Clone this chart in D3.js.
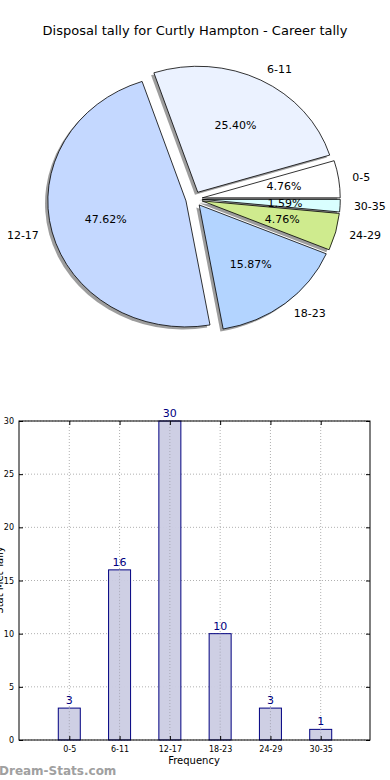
<!DOCTYPE html>
<html>
<head>
<meta charset="utf-8">
<script src="https://cdn.jsdelivr.net/npm/d3@7"></script>
<style>
  body { margin: 0; background: #fff; }
  text { font-family: "DejaVu Sans", sans-serif; }
</style>
</head>
<body>
<script>
// chart data
var categories = ["0-5", "6-11", "12-17", "18-23", "24-29", "30-35"];
var tally = [3, 16, 30, 10, 3, 1];
var sliceColors = ["#ffffff", "#ebf2ff", "#c4d8ff", "#b3d4ff", "#cfeb8e", "#d9ffff"];
var yTicks = [0, 5, 10, 15, 20, 25, 30];
var titleText = "Disposal tally for Curtly Hampton - Career tally";

var w = 390, h = 780;

var svg = d3.select("body").append("svg")
    .attr("width", w)
    .attr("height", h);

// title
svg.append("text")
    .attr("x", 195).attr("y", 35)
    .attr("text-anchor", "middle")
    .style("font-size", "13px")
    .text(titleText);

// ---- pie (elliptical, like an unequal matplotlib axes) ----
var cx = 194, cy = 199, rx = 138, ry = 126, explode = 0.06;
var total = d3.sum(tally);

var pie = d3.pie().sort(null)
    .startAngle(Math.PI / 2)
    .endAngle(Math.PI / 2 - 2 * Math.PI);
var slices = pie(tally);
var arc = d3.arc().innerRadius(0).outerRadius(1);

// angle counter-clockwise from east
function theta(d) { return Math.PI / 2 - (d.startAngle + d.endAngle) / 2; }
function offset(d, k) {
    var t = theta(d);
    return [cx + k * rx * Math.cos(t), cy - k * ry * Math.sin(t)];
}

var pieG = svg.append("g").attr("class", "pie");

// shadows
pieG.selectAll("path.shadow").data(slices).enter().append("path")
    .attr("class", "shadow")
    .attr("d", arc)
    .attr("transform", function(d) {
        var p = offset(d, explode);
        return "translate(" + (p[0] - 2.8) + "," + (p[1] + 2.5) + ") scale(" + rx + "," + ry + ")";
    })
    .style("fill", "#4d4d4d")
    .style("opacity", 0.55);

// wedges
pieG.selectAll("path.wedge").data(slices).enter().append("path")
    .attr("class", "wedge")
    .attr("d", arc)
    .attr("transform", function(d) {
        var p = offset(d, explode);
        return "translate(" + p[0] + "," + p[1] + ") scale(" + rx + "," + ry + ")";
    })
    .attr("vector-effect", "non-scaling-stroke")
    .style("fill", function(d, i) { return sliceColors[i]; })
    .style("stroke", "#000")
    .style("stroke-width", 0.8);

// outer labels
pieG.selectAll("text.lbl").data(slices).enter().append("text")
    .attr("class", "lbl")
    .attr("x", function(d) { return offset(d, explode + 1.1)[0]; })
    .attr("y", function(d) { return offset(d, explode + 1.1)[1]; })
    .attr("dy", "0.35em")
    .attr("text-anchor", function(d) { return Math.cos(theta(d)) >= 0 ? "start" : "end"; })
    .style("font-size", "11px")
    .text(function(d, i) { return categories[i]; });

// percent labels
pieG.selectAll("text.pct").data(slices).enter().append("text")
    .attr("class", "pct")
    .attr("x", function(d) { return offset(d, explode + 0.6)[0]; })
    .attr("y", function(d) { return offset(d, explode + 0.6)[1]; })
    .attr("dy", "0.35em")
    .attr("text-anchor", "middle")
    .style("font-size", "11px")
    .text(function(d) { return (d.value / total * 100).toFixed(2) + "%"; });

// ---- bar chart ----
var plotLeft = 19, plotRight = 370, plotTop = 421, plotBottom = 740;
var x = d3.scaleLinear().domain([-1, categories.length]).range([plotLeft, plotRight + 1]);
var y = d3.scaleLinear().domain([0, 30]).range([plotBottom, plotTop]);
var barW = 22;

var barG = svg.append("g").attr("class", "bars");

// grid
barG.selectAll("line.hgrid").data(yTicks).enter().append("line")
    .attr("x1", plotLeft).attr("x2", plotRight)
    .attr("y1", function(d) { return y(d); }).attr("y2", function(d) { return y(d); })
    .style("stroke", "#b0b0b0").style("stroke-dasharray", "1,2");
barG.selectAll("line.vgrid").data(categories).enter().append("line")
    .attr("x1", function(d, i) { return x(i); }).attr("x2", function(d, i) { return x(i); })
    .attr("y1", plotTop).attr("y2", plotBottom)
    .style("stroke", "#b0b0b0").style("stroke-dasharray", "1,2");

// bars
barG.selectAll("rect.bar").data(tally).enter().append("rect")
    .attr("class", "bar")
    .attr("x", function(d, i) { return x(i) - barW / 2; })
    .attr("y", function(d) { return y(d); })
    .attr("width", barW)
    .attr("height", function(d) { return plotBottom - y(d); })
    .style("fill", "#cbcce3")
    .style("fill-opacity", 0.95)
    .style("stroke", "#000080")
    .style("stroke-width", 1);

// grid shows through bars in the reference
barG.selectAll("line.vgrid2").data(categories).enter().append("line")
    .attr("x1", function(d, i) { return x(i); }).attr("x2", function(d, i) { return x(i); })
    .attr("y1", function(d, i) { return y(tally[i]); }).attr("y2", plotBottom)
    .style("stroke", "#a8a8b8").style("stroke-dasharray", "1,2");

// value labels
barG.selectAll("text.val").data(tally).enter().append("text")
    .attr("x", function(d, i) { return x(i); })
    .attr("y", function(d) { return y(d) - 4; })
    .attr("text-anchor", "middle")
    .style("font-size", "11px")
    .style("fill", "#000080")
    .text(function(d) { return d; });

// axes
var yAxis = d3.axisLeft(y).tickValues(yTicks).tickSizeInner(-4).tickSizeOuter(0).tickPadding(5);
barG.append("g").attr("transform", "translate(" + plotLeft + ",0)").call(yAxis);
var yAxisR = d3.axisRight(y).tickValues(yTicks).tickSizeInner(-4).tickSizeOuter(0).tickFormat("");
barG.append("g").attr("transform", "translate(" + plotRight + ",0)").call(yAxisR);

var xAxis = d3.axisBottom(x).tickValues(d3.range(categories.length))
    .tickFormat(function(i) { return categories[i]; })
    .tickSizeInner(-4).tickSizeOuter(0).tickPadding(6);
barG.append("g").attr("transform", "translate(0," + plotBottom + ")").call(xAxis);
var xAxisT = d3.axisTop(x).tickValues(d3.range(categories.length)).tickFormat("")
    .tickSizeInner(-4).tickSizeOuter(0);
barG.append("g").attr("transform", "translate(0," + plotTop + ")").call(xAxisT);

barG.selectAll(".domain").remove();
barG.selectAll(".tick line").style("stroke", "#000");
barG.selectAll(".tick text").style("font-family", "DejaVu Sans, sans-serif").style("font-size", "8px").style("fill", "#000");

// frame
barG.append("rect")
    .attr("x", plotLeft).attr("y", plotTop)
    .attr("width", plotRight - plotLeft).attr("height", plotBottom - plotTop)
    .style("fill", "none").style("stroke", "#000").style("stroke-width", 1);

// axis labels
svg.append("text")
    .attr("x", 194).attr("y", 764)
    .attr("text-anchor", "middle")
    .style("font-size", "10px")
    .text("Frequency");
svg.append("text")
    .attr("transform", "translate(3,580) rotate(-90)")
    .attr("text-anchor", "middle")
    .style("font-size", "10px")
    .text("Stat Met Tally");

// watermark
svg.append("text")
    .attr("x", -1).attr("y", 775)
    .style("font-size", "12px")
    .style("font-weight", "bold")
    .style("fill", "#a0a0a0")
    .text("Dream-Stats.com");
</script>
</body>
</html>
